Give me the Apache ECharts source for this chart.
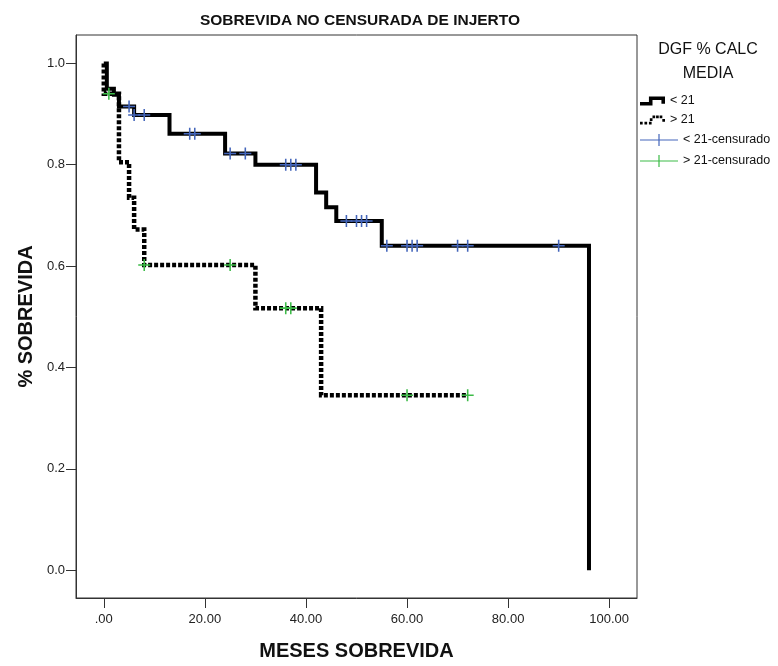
<!DOCTYPE html>
<html><head><meta charset="utf-8">
<script src="https://cdn.jsdelivr.net/npm/echarts@6/dist/echarts.min.js"></script>
<style>html,body{margin:0;padding:0;background:#fff}#c{width:778px;height:666px}</style>
</head><body><div id="c"></div>
<script>
// ---- data ----
const xTickValues = [0, 20, 40, 60, 80, 100];
const xTickLabels = ['.00', '20.00', '40.00', '60.00', '80.00', '100.00'];
const yTickValues = [0, 0.2, 0.4, 0.6, 0.8, 1.0];
const yTickLabels = ['0.0', '0.2', '0.4', '0.6', '0.8', '1.0'];
const groupNames = ['< 21', '> 21'];
const censorNames = ['< 21-censurado', '> 21-censurado'];
const chartTitle = 'SOBREVIDA NO CENSURADA DE INJERTO';
const legendTitle = 'DGF % CALC\nMEDIA';
const xName = 'MESES SOBREVIDA';
const yName = '% SOBREVIDA';
// Kaplan-Meier steps: [months, survival after event]
const survivalLow = [[0, 1.0], [0.6, 0.95], [2, 0.938], [3, 0.915], [6, 0.898], [13, 0.861], [24, 0.822], [30, 0.800], [42, 0.745], [44, 0.716], [46, 0.689], [55, 0.640], [96, 0.0]];
const survivalHigh = [[0, 1.0], [0, 0.94], [3, 0.805], [5, 0.735], [6, 0.672], [8, 0.602], [30, 0.517], [43, 0.345], [72, 0.345]];
const censoredLow = [[5, 0.915], [6, 0.898], [8, 0.898], [17, 0.861], [18, 0.861], [25, 0.822], [28, 0.822], [36, 0.800], [37, 0.800], [38, 0.800], [48, 0.689], [50, 0.689], [51, 0.689], [52, 0.689], [56, 0.640], [60, 0.640], [61, 0.640], [62, 0.640], [70, 0.640], [72, 0.640], [90, 0.640]];
const censoredHigh = [[1, 0.94], [8, 0.602], [25, 0.602], [36, 0.517], [37, 0.517], [60, 0.345], [72, 0.345]];

// ---- styling ----
const FONT = 'Liberation Sans, Arial, sans-serif';
const BLUE = '#4466bb';
const GREEN = '#3dbb48';
const plusPath = 'path://M0,4.35H10V5.65H0Z M4.35,0H5.65V10H4.35Z';
const stepIcon = 'path://M0,6H10V0H28V8H24V4H14V10H0Z';
const dotStepIcon = 'path://M0,7h3v3h-3z M5,7h3v3h-3z M10,7h3v3h-3z M11,3h3v3h-3z M14,0h3v3h-3z M18,0h3v3h-3z M22,0h3v3h-3z M25,4h3v3h-3z';
const censIcon = 'path://M0,5.4H38V6.6H0Z M18.4,0H19.6V12H18.4Z';

const chart = echarts.init(document.getElementById('c'), null, {renderer: 'canvas'});
chart.setOption({
  animation: false,
  backgroundColor: '#fff',
  textStyle: {fontFamily: FONT},
  title: [
    {text: chartTitle, left: 355, top: 8, textAlign: 'center',
     textStyle: {fontSize: 15.5, fontWeight: 'bold', color: '#111', fontFamily: FONT}},
    {text: legendTitle, left: 703, top: 33, textAlign: 'center',
     textStyle: {fontSize: 16, fontWeight: 'normal', color: '#111', lineHeight: 24, fontFamily: FONT}}
  ],
  legend: [
    {data: [{name: groupNames[0], icon: stepIcon}, {name: groupNames[1], icon: dotStepIcon}],
     orient: 'vertical', left: 640, top: 94, padding: 0, itemWidth: 25, itemHeight: 10, itemGap: 5,
     selectedMode: false, itemStyle: {borderWidth: 0},
     textStyle: {fontSize: 12.5, color: '#111', fontFamily: FONT, lineHeight: 14}},
    {data: [{name: censorNames[0], icon: censIcon}, {name: censorNames[1], icon: censIcon}],
     orient: 'vertical', left: 640, top: 133, padding: 0, itemWidth: 38, itemHeight: 12, itemGap: 7,
     selectedMode: false, itemStyle: {borderWidth: 0, opacity: 1},
     textStyle: {fontSize: 12.5, color: '#111', fontFamily: FONT, lineHeight: 14}}
  ],
  grid: {left: 76, right: 141, top: 35, bottom: 66, show: true, borderColor: '#333', borderWidth: 1},
  xAxis: {
    type: 'value', min: -5.5, max: 105.5,
    name: xName, nameLocation: 'middle', nameGap: 43,
    nameTextStyle: {fontSize: 20, fontWeight: 'bold', color: '#111', fontFamily: FONT},
    axisLine: {show: true, onZero: false, lineStyle: {color: '#333', width: 1}},
    axisTick: {show: true, length: 10, customValues: xTickValues, lineStyle: {color: '#333'}},
    axisLabel: {customValues: xTickValues, margin: 15, fontSize: 13, color: '#222', fontFamily: FONT,
      formatter: v => xTickLabels[xTickValues.indexOf(v)]},
    splitLine: {show: false}
  },
  yAxis: {
    type: 'value', min: -0.055, max: 1.056,
    name: yName, nameLocation: 'middle', nameGap: 40,
    nameTextStyle: {fontSize: 20, fontWeight: 'bold', color: '#111', fontFamily: FONT},
    axisLine: {show: true, onZero: false, lineStyle: {color: '#333', width: 1}},
    axisTick: {show: true, length: 10, customValues: yTickValues, lineStyle: {color: '#333'}},
    axisLabel: {customValues: yTickValues, margin: 11, fontSize: 13, color: '#222', fontFamily: FONT,
      padding: [6, 0, 0, 0],
      formatter: v => yTickLabels[yTickValues.indexOf(v)]},
    splitLine: {show: false}
  },
  series: [
    {name: groupNames[0], type: 'line', step: 'end', data: survivalLow, showSymbol: false, symbol: 'none',
     silent: true, z: 2, color: '#000', itemStyle: {color: '#000'},
     lineStyle: {color: '#000', width: 4, join: 'miter', cap: 'butt'}},
    {name: groupNames[1], type: 'line', step: 'end', data: survivalHigh, showSymbol: false, symbol: 'none',
     silent: true, z: 3, color: '#000', itemStyle: {color: '#000'},
     lineStyle: {color: '#000', width: 4.5, type: [4, 2], join: 'miter', cap: 'butt'}},
    {name: censorNames[0], type: 'scatter', data: censoredLow, symbol: plusPath, symbolSize: 12,
     silent: true, z: 4, itemStyle: {color: BLUE, opacity: 1}},
    {name: censorNames[1], type: 'scatter', data: censoredHigh, symbol: plusPath, symbolSize: 12,
     silent: true, z: 5, itemStyle: {color: GREEN, opacity: 1}}
  ]
});
</script></body></html>
